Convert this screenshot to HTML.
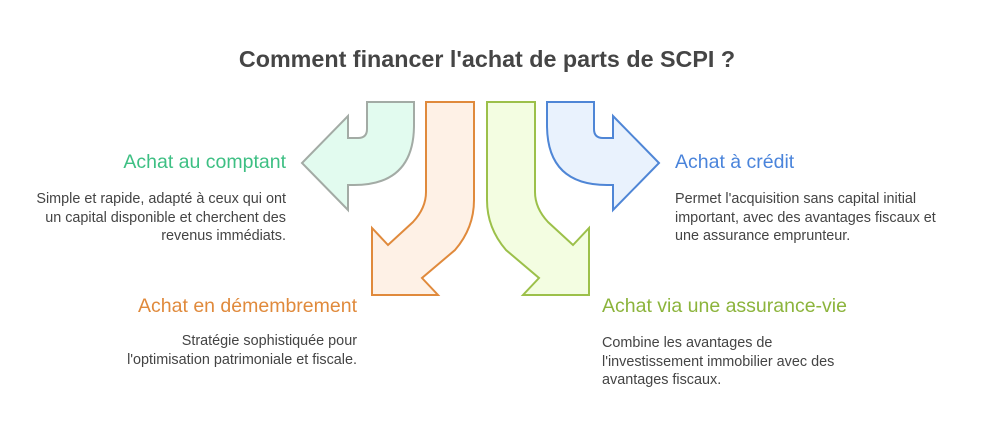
<!DOCTYPE html>
<html><head><meta charset="utf-8"><style>
body{margin:0;background:#fff;width:984px;height:427px;position:relative;overflow:hidden;font-family:"Liberation Sans",sans-serif}
.t{position:absolute;white-space:nowrap}
.h{font-size:19.5px}
.d{font-size:14.4px;color:#444;line-height:18.5px}
.r{text-align:right}
</style></head><body>
<div class="t" style="left:-5px;width:984px;text-align:center;top:46px;font-size:23.3px;font-weight:bold;color:#454545">Comment financer l'achat de parts de SCPI ?</div>
<svg width="984" height="427" style="position:absolute;left:0;top:0" stroke-width="2" stroke-linejoin="miter">
<path d="M367,102 L414,102 L414,125 Q414,185 354,185 L348,185 L348,210 L302,163 L348,116 L348,138 L358,138 Q367,138 367,129 Z" fill="#e2fbef" stroke="#a3aba5"/>
<path d="M594,102 L547,102 L547,125 Q547,185 607,185 L613,185 L613,210 L659,163 L613,116 L613,138 L603,138 Q594,138 594,129 Z" fill="#e9f2fd" stroke="#4f86d6"/>
<path d="M426,102 L474,102 L474,200 Q474,228 455,250 L422,278 L438,295 L372,295 L372,228 L388,245 L413,222 Q426,208 426,192 Z" fill="#fef1e6" stroke="#e08a3c"/>
<path d="M535,102 L487,102 L487,200 Q487,228 506,250 L539,278 L523,295 L589,295 L589,228 L573,245 L548,222 Q535,208 535,192 Z" fill="#f3fde1" stroke="#9cc04a"/>
</svg>
<div class="t h r" style="right:698px;top:151px;color:#3dbf83">Achat au comptant</div>
<div class="t d r" style="right:698px;top:190px">Simple et rapide, adapté à ceux qui ont<br>un capital disponible et cherchent des<br>revenus immédiats.</div>
<div class="t h" style="left:675px;top:151px;color:#4a84db">Achat à crédit</div>
<div class="t d" style="left:675px;top:190px">Permet l'acquisition sans capital initial<br>important, avec des avantages fiscaux et<br>une assurance emprunteur.</div>
<div class="t h r" style="right:627px;top:295px;color:#e08a3c">Achat en démembrement</div>
<div class="t d r" style="right:627px;top:332px">Stratégie sophistiquée pour<br>l'optimisation patrimoniale et fiscale.</div>
<div class="t h" style="left:602px;top:295px;color:#8cb43c">Achat via une assurance-vie</div>
<div class="t d" style="left:602px;top:334px">Combine les avantages de<br>l'investissement immobilier avec des<br>avantages fiscaux.</div>
</body></html>
